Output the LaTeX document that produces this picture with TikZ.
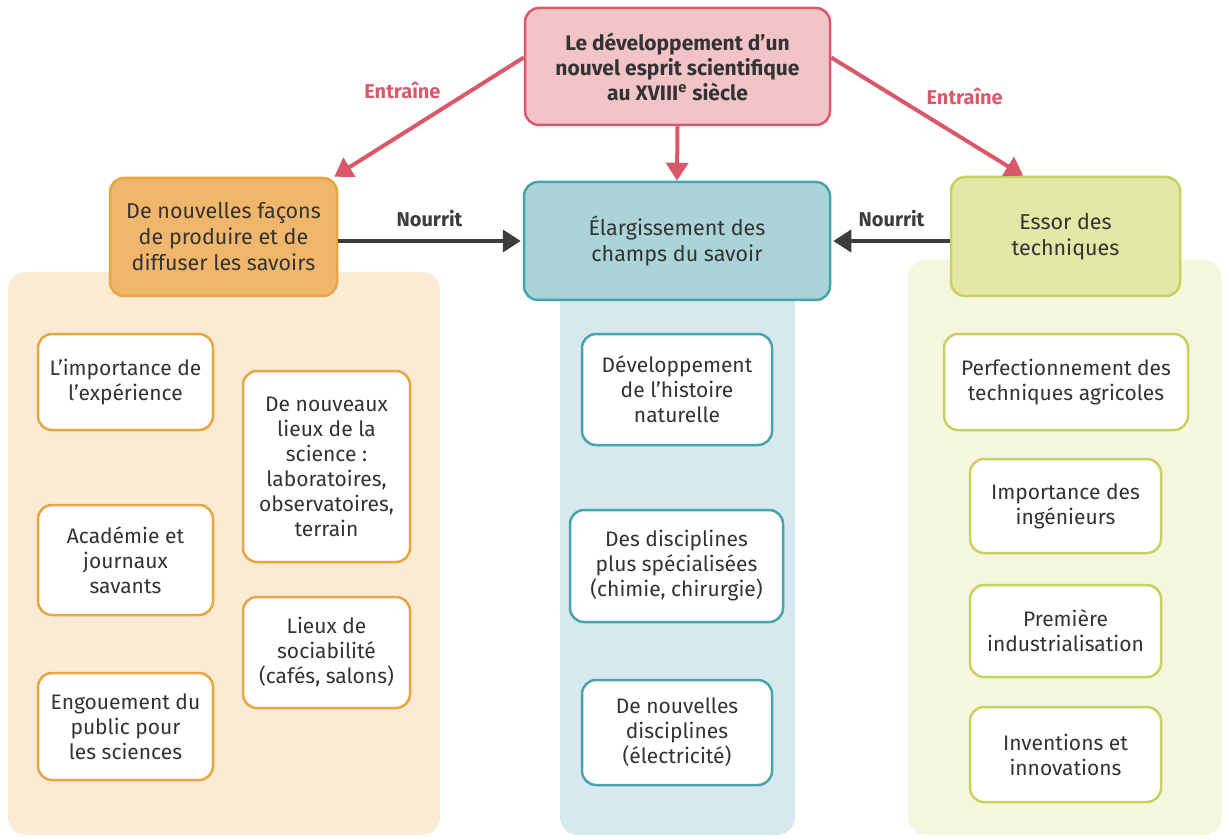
\documentclass[tikz,border=0pt]{standalone}
\usepackage{fontspec}
\setmainfont{Fira Sans}
\usepackage{xcolor}
\usepackage{tikz}
\usetikzlibrary{positioning, calc, arrows.meta}

\definecolor{redline}{HTML}{D9596B}
\definecolor{redfill}{HTML}{F3C4C7}
\definecolor{orline}{HTML}{E9A444}
\definecolor{orfill}{HTML}{EFB66C}
\definecolor{orpanel}{HTML}{FCEBD4}
\definecolor{tealline}{HTML}{48A4AA}
\definecolor{tealfill}{HTML}{ABD4D9}
\definecolor{tealpanel}{HTML}{D6E9EE}
\definecolor{grline}{HTML}{C5D35E}
\definecolor{grfill}{HTML}{E4E8A6}
\definecolor{grpanel}{HTML}{F4F6DD}
\definecolor{darkarrow}{HTML}{3C3C3C}
\definecolor{txt}{HTML}{333333}

\begin{document}
\begin{tikzpicture}[x=0.5pt, y=-0.5pt,
    box/.style={rectangle, rounded corners=7pt, line width=1.25pt, align=center,
                text=txt, font=\fontsize{10.5}{12.5}\selectfont, inner sep=2pt},
    head/.style={box, font=\fontsize{10.75}{13}\selectfont},
    sub/.style={box, fill=white},
    entr/.style={-{Triangle[length=9pt, width=11pt]}, line width=2pt, redline},
    nour/.style={-{Triangle[length=9pt, width=11pt]}, line width=2pt, darkarrow},
    lab/.style={font=\fontsize{10}{12}\selectfont\bfseries}]

    \useasboundingbox (0,0) rectangle (1229,839);

    % Background panels
    \fill[orpanel, rounded corners=9pt] (8,272) rectangle (440,835);
    \fill[tealpanel, rounded corners=9pt] (560,280) rectangle (795,835);
    \fill[grpanel, rounded corners=9pt] (908,260) rectangle (1222,835);

    % Top box
    \node[box, draw=redline, fill=redfill, minimum width=152.5pt, minimum height=58.5pt,
          font=\fontsize{10.5}{12.5}\selectfont\bfseries] (top) at (677.5,66.5)
        {Le développement d’un\\nouvel esprit scientifique\\au XVIII\textsuperscript{e} siècle};

    % Three headers
    \node[head, draw=orline, fill=orfill, minimum width=113.5pt, minimum height=59pt] (facons) at (223.5,237)
        {De nouvelles façons\\de produire et de\\diffuser les savoirs};
    \node[head, draw=tealline, fill=tealfill, minimum width=153pt, minimum height=59pt] (champs) at (677,241)
        {Élargissement des\\champs du savoir};
    \node[head, draw=grline, fill=grfill, minimum width=114.5pt, minimum height=59.5pt] (essor) at (1065.5,236.5)
        {Essor des\\techniques};

    % Arrows from the top box
    \draw[entr] ([yshift=4.5pt]top.west) -- ([xshift=-2pt]facons.north east)
        node[pos=0.35, xshift=-27.5pt, yshift=4.5pt, lab, text=redline] {Entraîne};
    \draw[entr] ([yshift=4.5pt]top.east) -- ([xshift=-79pt]essor.north east)
        node[pos=0.45, xshift=23.5pt, yshift=7pt, lab, text=redline] {Entraîne};
    \draw[entr] (top.south) -- (champs.north);

    % Nourrit arrows
    \draw[nour] (facons.east |- champs.west) -- ([xshift=-1pt]champs.west)
        node[midway, above=2.5pt, lab, text=darkarrow] {Nourrit};
    \draw[nour] (essor.west |- champs.east) -- ([xshift=1pt]champs.east)
        node[midway, above=2.5pt, lab, text=darkarrow] {Nourrit};

    % Left column
    \node[sub, draw=orline, minimum width=87.5pt, minimum height=48pt] (exp) at (125.5,382)
        {L’importance de\\l’expérience};
    \node[sub, draw=orline, minimum width=83.5pt, minimum height=95.5pt] (lieux) at (326.5,466.5)
        {De nouveaux\\lieux de la\\science :\\laboratoires,\\observatoires,\\terrain};
    \node[sub, draw=orline, minimum width=87.5pt, minimum height=55pt] (acad) at (125.5,560)
        {Académie et\\journaux\\savants};
    \node[sub, draw=orline, minimum width=83.5pt, minimum height=55.5pt] (socia) at (326.5,652.5)
        {Lieux de\\sociabilité\\(cafés, salons)};
    \node[sub, draw=orline, minimum width=87.5pt, minimum height=53.5pt] (public) at (125.5,726.5)
        {Engouement du\\public pour\\les sciences};

    % Center column
    \node[sub, draw=tealline, minimum width=95pt, minimum height=55.5pt] (histoire) at (677,389.5)
        {Développement\\de l’histoire\\naturelle};
    \node[sub, draw=tealline, minimum width=106.5pt, minimum height=56pt] (specia) at (676.5,566)
        {Des disciplines\\plus spécialisées\\(chimie, chirurgie)};
    \node[sub, draw=tealline, minimum width=95pt, minimum height=52.5pt] (electr) at (677,732.5)
        {De nouvelles\\disciplines\\(électricité)};

    % Right column
    \node[sub, draw=grline, minimum width=122pt, minimum height=48pt] (agri) at (1066,382)
        {Perfectionnement des\\techniques agricoles};
    \node[sub, draw=grline, minimum width=95.5pt, minimum height=47pt] (ingen) at (1065.5,506)
        {Importance des\\ingénieurs};
    \node[sub, draw=grline, minimum width=95.5pt, minimum height=46pt] (indus) at (1065.5,631)
        {Première\\industrialisation};
    \node[sub, draw=grline, minimum width=95.5pt, minimum height=47.5pt] (innov) at (1065.5,754.5)
        {Inventions et\\innovations};

\end{tikzpicture}
\end{document}
